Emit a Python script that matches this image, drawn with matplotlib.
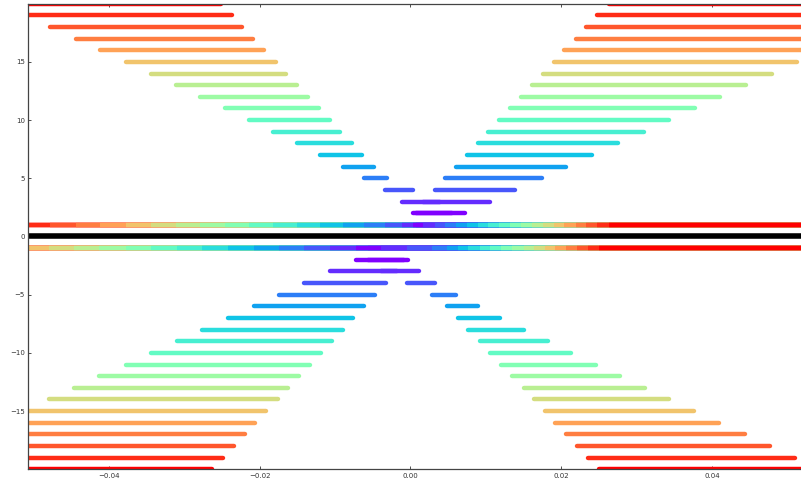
import numpy as np
import matplotlib
matplotlib.use('Agg')
import matplotlib.pyplot as plt

levels = np.arange(2, 21)

# upper half, left branch (start, end) for levels 2..20
up_left_start = [0.0003, -0.0011, -0.0034, -0.0061, -0.0090, -0.0120, -0.0151, -0.0182, -0.0214, -0.0246,
                 -0.0279, -0.0311, -0.0344, -0.0377, -0.0412, -0.0444, -0.0478, -0.0510, -0.0544]
up_left_end = [0.0055, 0.0039, 0.0003, -0.0031, -0.0049, -0.0064, -0.0078, -0.0093, -0.0107, -0.0121,
               -0.0136, -0.0151, -0.0165, -0.0179, -0.0194, -0.0209, -0.0223, -0.0237, -0.0251]
# upper half, right branch
up_right_start = [0.0008, 0.0016, 0.0032, 0.0046, 0.0060, 0.0075, 0.0089, 0.0103, 0.0118, 0.0132,
                  0.0147, 0.0161, 0.0176, 0.0190, 0.0204, 0.0219, 0.0233, 0.0248, 0.0263]
up_right_end = [0.0072, 0.0105, 0.0139, 0.0174, 0.0207, 0.0241, 0.0275, 0.0310, 0.0343, 0.0377,
                0.0411, 0.0445, 0.0479, 0.0513, 0.0546, 0.0581, 0.0614, 0.0648, 0.0681]
# lower half (levels -2..-20), left branch
lo_left_start = [-0.0072, -0.0107, -0.0141, -0.0175, -0.0208, -0.0242, -0.0276, -0.0310, -0.0344, -0.0378,
                 -0.0413, -0.0446, -0.0480, -0.0514, -0.0548, -0.0581, -0.0616, -0.0650, -0.0683]
lo_left_end = [-0.0008, -0.0018, -0.0032, -0.0047, -0.0061, -0.0076, -0.0090, -0.0104, -0.0119, -0.0133,
               -0.0148, -0.0163, -0.0176, -0.0191, -0.0206, -0.0220, -0.0234, -0.0249, -0.0263]
# lower half, right branch
lo_right_start = [-0.0056, -0.0039, -0.0005, 0.0029, 0.0048, 0.0063, 0.0077, 0.0092, 0.0106, 0.0120,
                  0.0135, 0.0150, 0.0164, 0.0178, 0.0192, 0.0207, 0.0221, 0.0236, 0.0250]
lo_right_end = [-0.0003, 0.0011, 0.0033, 0.0060, 0.0089, 0.0119, 0.0150, 0.0182, 0.0213, 0.0246,
                0.0278, 0.0311, 0.0343, 0.0376, 0.0409, 0.0444, 0.0477, 0.0510, 0.0543]

x_lim = (-0.0507, 0.0530)
y_lim = (-20, 20)

fig = plt.figure(figsize=(8.01, 4.86), dpi=100)
ax = fig.add_axes([0.0353, 0.0344, 0.9759, 0.958])

colors = plt.cm.rainbow((levels - 2) / 18.0)
lw = 3.2

for i, k in enumerate(levels):
    c = colors[i]
    ax.plot([up_left_start[i], up_left_end[i]], [k, k], color=c, lw=lw, solid_capstyle='round')
    ax.plot([up_right_start[i], up_right_end[i]], [k, k], color=c, lw=lw, solid_capstyle='round')
    ax.plot([lo_left_start[i], lo_left_end[i]], [-k, -k], color=c, lw=lw, solid_capstyle='round')
    ax.plot([lo_right_start[i], lo_right_end[i]], [-k, -k], color=c, lw=lw, solid_capstyle='round')

# the bands at +-1: every segment from its start on, ordered by start
for y, starts in [(1, up_left_start + up_right_start), (-1, lo_left_start + lo_right_start)]:
    lev = list(range(19)) * 2
    order = np.argsort(starts, kind='stable')
    for j in order:
        ax.plot([starts[j], x_lim[1] + 0.01], [y, y], color=colors[lev[j]], lw=lw, solid_capstyle='butt')

ax.axhline(0, color='black', lw=4)

ax.set_xlim(x_lim)
ax.set_ylim(y_lim)
ax.set_xticks([-0.04, -0.02, 0.0, 0.02, 0.04])
ax.set_yticks([-15, -10, -5, 0, 5, 10, 15])
ax.tick_params(direction='in', length=2.5, width=0.6, labelsize=5, pad=2.5,
               top=True, right=True, colors='#333333')
for s in ax.spines.values():
    s.set_color('#444444')
    s.set_linewidth(0.9)

fig.savefig('out.png', dpi=100)
